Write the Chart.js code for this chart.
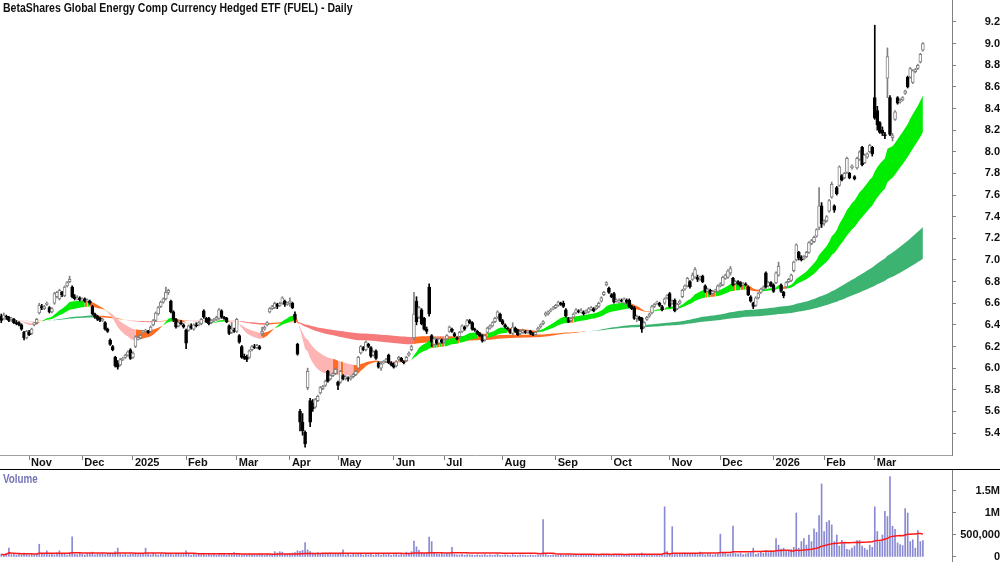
<!DOCTYPE html>
<html>
<head>
<meta charset="utf-8">
<script src="https://cdn.jsdelivr.net/npm/chart.js@4.4.0/dist/chart.umd.min.js"></script>
<style>
  html, body { margin: 0; padding: 0; background: #fff; }
  #wrap { position: relative; width: 1000px; height: 562px; overflow: hidden;
          font-family: "Liberation Sans Narrow", "Liberation Sans", Arial, sans-serif; }
  #pricebox { position: absolute; left: 0; top: 0; width: 1000px; height: 469px; }
  #sep { position: absolute; left: 0; top: 469px; width: 1000px; height: 1px; background: #000; }
  #volbox { position: absolute; left: 0; top: 470px; width: 1000px; height: 92px; }
  #title { position: absolute; left: 3px; top: 1px; font-size: 12px; font-weight: bold; color: #111;
           white-space: nowrap; transform: scaleX(0.875); transform-origin: left top; }
  #vlabel { position: absolute; left: 3px; top: 472px; font-size: 12px; font-weight: bold; color: #7474b8;
            transform: scaleX(0.82); transform-origin: left top; }
</style>
</head>
<body>
<div id="wrap">
  <div id="pricebox"><canvas id="price"></canvas></div>
  <div id="sep"></div>
  <div id="volbox"><canvas id="vol"></canvas></div>
  <div id="title">BetaShares Global Energy Comp Currency Hedged ETF (FUEL) - Daily</div>
  <div id="vlabel">Volume</div>
</div>
<script>
// month buckets (trading days in each), first bucket is the tail of Oct 2024
const monthLabels = ["Oct", "Nov", "Dec", "2025", "Feb", "Mar", "Apr", "May", "Jun", "Jul", "Aug", "Sep", "Oct", "Nov", "Dec", "2026", "Feb", "Mar"];
const monthDays   = [11, 21, 20, 21, 20, 21, 19, 22, 20, 23, 21, 22, 23, 20, 21, 20, 20, 20];

const priceTicks = [5.4, 5.6, 5.8, 6.0, 6.2, 6.4, 6.6, 6.8, 7.0, 7.2, 7.4, 7.6, 7.8, 8.0, 8.2, 8.4, 8.6, 8.8, 9.0, 9.2];
const volTicks = [0, 500, 1000, 1500];
const volTickLabels = ["0", "500,000", "1M", "1.5M"];

const opens = [
  6.48,6.46,6.48,6.47,6.45,6.45,6.42,6.42,6.40,6.33, 6.28,6.33,6.32,6.40,6.42,6.51,6.57,6.55,6.59,6.56,
  6.52,6.60,6.66,6.64,6.70,6.67,6.76,6.80,6.75,6.66, 6.64,6.65,6.63,6.64,6.62,6.62,6.57,6.50,6.48,6.46,
  6.44,6.42,6.36,6.26,6.20,6.10,6.05,6.03,6.08,6.10, 6.12,6.17,6.10,6.20,6.27,6.28,6.33,6.34,6.34,6.34,
  6.40,6.44,6.50,6.57,6.61,6.64,6.70,6.62,6.52,6.45, 6.39,6.42,6.40,6.35,6.35,6.39,6.36,6.40,6.40,6.41,
  6.53,6.46,6.46,6.42,6.44,6.45,6.46,6.53,6.47,6.46, 6.39,6.33,6.35,6.34,6.30,6.20,6.11,6.10,6.10,6.17,
  6.20,6.19,6.20,6.32,6.36,6.40,6.52,6.55,6.56,6.59, 6.58,6.60,6.62,6.59,6.60,6.60,6.50,6.22,5.60,5.50,
  5.41,5.82,5.70,5.68,5.64,5.70,5.77,5.81,5.84,5.97, 5.90,5.93,5.95,5.87,5.87,5.93,5.90,5.91,5.90,5.92,
  5.94,6.00,6.14,6.19,6.17,6.22,6.19,6.12,6.16,6.05, 6.00,6.05,6.06,6.12,6.05,6.03,6.02,6.08,6.09,6.06,
  6.07,6.12,6.17,6.28,6.62,6.47,6.54,6.46,6.36,6.75, 6.30,6.22,6.26,6.23,6.26,6.24,6.27,6.34,6.36,6.32,
  6.28,6.29,6.34,6.38,6.39,6.44,6.42,6.36,6.34,6.32, 6.30,6.26,6.33,6.37,6.39,6.43,6.47,6.50,6.44,6.40,
  6.37,6.35,6.32,6.37,6.35,6.32,6.33,6.34,6.33,6.34, 6.32,6.31,6.35,6.38,6.41,6.49,6.50,6.53,6.55,6.56,
  6.58,6.60,6.60,6.54,6.46,6.44,6.47,6.51,6.53,6.52, 6.52,6.51,6.52,6.54,6.55,6.55,6.57,6.62,6.68,6.77,
  6.74,6.68,6.69,6.62,6.61,6.63,6.60,6.63,6.63,6.57, 6.56,6.46,6.47,6.46,6.38,6.45,6.48,6.51,6.57,6.60,
  6.60,6.57,6.60,6.65,6.69,6.60,6.63,6.55,6.60,6.66, 6.73,6.76,6.80,6.82,6.84,6.84,6.83,6.85,6.76,6.71,
  6.72,6.69,6.71,6.71,6.76,6.77,6.83,6.84,6.88,6.83, 6.78,6.80,6.79,6.77,6.78,6.75,6.66,6.60,6.58,6.65,
  6.70,6.73,6.88,6.76,6.79,6.77,6.79,6.86,6.77,6.70, 6.75,6.80,6.81,6.90,7.00,7.07,7.03,7.01,7.03,7.07,
  7.15,7.17,7.22,7.30,7.50,7.34,7.36,7.45,7.58,7.50, 7.67,7.69,7.78,7.76,7.81,7.80,7.85,7.77,7.85,7.93,
  8.04,7.90,7.95,8.00,8.04,8.50,8.38,8.27,8.20,8.16, 8.68,8.50,8.13,8.30,8.50,8.46,8.48,8.54,8.69,8.69,
  8.64,8.74,8.77,8.83,8.94
];
const highs = [
  6.50,6.51,6.49,6.48,6.47,6.46,6.44,6.43,6.41,6.34, 6.35,6.35,6.37,6.42,6.46,6.60,6.59,6.58,6.61,6.57,
  6.56,6.70,6.71,6.73,6.71,6.76,6.80,6.85,6.76,6.68, 6.67,6.66,6.65,6.65,6.64,6.63,6.58,6.51,6.49,6.47,
  6.46,6.43,6.37,6.27,6.21,6.11,6.07,6.09,6.10,6.13, 6.16,6.18,6.15,6.30,6.30,6.31,6.35,6.36,6.35,6.39,
  6.45,6.52,6.57,6.62,6.65,6.75,6.73,6.63,6.53,6.46, 6.43,6.44,6.41,6.36,6.40,6.41,6.41,6.42,6.43,6.46,
  6.54,6.47,6.47,6.45,6.46,6.48,6.55,6.54,6.48,6.47, 6.40,6.42,6.37,6.46,6.31,6.21,6.13,6.12,6.17,6.21,
  6.22,6.22,6.21,6.38,6.39,6.43,6.56,6.58,6.61,6.60, 6.61,6.66,6.63,6.61,6.65,6.61,6.52,6.23,5.62,5.58,
  5.42,6.00,5.72,5.71,5.72,5.75,5.83,5.84,5.89,5.98, 5.94,5.96,6.00,5.88,5.98,5.94,5.93,5.92,5.93,5.95,
  5.98,6.11,6.21,6.20,6.25,6.23,6.20,6.16,6.17,6.06, 6.06,6.07,6.09,6.13,6.06,6.05,6.07,6.11,6.10,6.07,
  6.11,6.15,6.21,6.70,6.66,6.57,6.55,6.47,6.38,6.78, 6.31,6.28,6.27,6.28,6.27,6.27,6.31,6.39,6.37,6.33,
  6.29,6.34,6.40,6.39,6.45,6.45,6.43,6.37,6.35,6.33, 6.31,6.31,6.38,6.40,6.43,6.47,6.53,6.51,6.45,6.41,
  6.38,6.36,6.42,6.38,6.36,6.35,6.36,6.35,6.35,6.35, 6.33,6.34,6.38,6.41,6.44,6.52,6.53,6.55,6.57,6.59,
  6.62,6.61,6.62,6.55,6.47,6.47,6.51,6.55,6.54,6.55, 6.53,6.54,6.56,6.57,6.56,6.58,6.61,6.66,6.71,6.80,
  6.75,6.69,6.70,6.64,6.64,6.64,6.65,6.64,6.64,6.58, 6.57,6.49,6.48,6.47,6.43,6.48,6.51,6.58,6.60,6.62,
  6.61,6.58,6.65,6.68,6.70,6.63,6.64,6.60,6.63,6.73, 6.77,6.84,6.81,6.88,6.93,6.86,6.85,6.86,6.77,6.74,
  6.73,6.72,6.73,6.77,6.79,6.85,6.87,6.91,6.94,6.84, 6.81,6.81,6.80,6.79,6.79,6.76,6.67,6.61,6.66,6.70,
  6.74,6.76,6.89,6.80,6.80,6.78,6.89,6.98,6.78,6.71, 6.80,6.83,6.87,6.99,7.15,7.08,7.04,7.04,7.08,7.17,
  7.19,7.22,7.29,7.67,7.53,7.37,7.41,7.56,7.72,7.51, 7.68,7.87,7.79,7.81,7.95,7.81,7.88,7.78,7.95,8.01,
  8.05,7.98,7.99,8.07,8.05,9.17,8.42,8.28,8.23,8.18, 8.96,8.52,8.17,8.38,8.51,8.49,8.51,8.57,8.70,8.78,
  8.76,8.77,8.81,8.91,9.01
];
const lows = [
  6.42,6.45,6.45,6.43,6.43,6.41,6.40,6.39,6.35,6.26, 6.27,6.30,6.31,6.39,6.41,6.50,6.54,6.54,6.58,6.51,
  6.51,6.59,6.65,6.63,6.66,6.66,6.75,6.79,6.65,6.63, 6.63,6.62,6.62,6.61,6.61,6.59,6.49,6.46,6.44,6.43,
  6.43,6.35,6.33,6.21,6.16,6.01,5.99,6.02,6.07,6.09, 6.11,6.08,6.09,6.19,6.26,6.27,6.32,6.33,6.32,6.33,
  6.39,6.43,6.49,6.56,6.60,6.63,6.68,6.51,6.43,6.37, 6.38,6.40,6.37,6.18,6.34,6.36,6.35,6.38,6.39,6.40,
  6.46,6.42,6.40,6.41,6.43,6.44,6.45,6.46,6.45,6.42, 6.31,6.32,6.33,6.33,6.23,6.09,6.08,6.06,6.09,6.16,
  6.18,6.18,6.17,6.30,6.35,6.39,6.51,6.54,6.55,6.55, 6.57,6.59,6.57,6.58,6.57,6.55,6.42,6.12,5.42,5.38,
  5.27,5.80,5.46,5.60,5.63,5.69,5.76,5.80,5.83,5.87, 5.89,5.92,5.94,5.80,5.86,5.89,5.89,5.88,5.89,5.91,
  5.93,5.99,6.13,6.16,6.16,6.19,6.10,6.11,6.08,6.00, 5.98,6.04,6.05,6.04,6.02,6.00,6.01,6.07,6.06,6.04,
  6.06,6.11,6.16,6.26,6.40,6.46,6.40,6.35,6.32,6.48, 6.20,6.21,6.22,6.22,6.23,6.23,6.26,6.33,6.33,6.29,
  6.26,6.28,6.33,6.35,6.38,6.41,6.35,6.34,6.31,6.29, 6.24,6.25,6.32,6.36,6.38,6.42,6.46,6.43,6.40,6.37,
  6.35,6.32,6.31,6.33,6.30,6.31,6.32,6.32,6.32,6.31, 6.30,6.30,6.34,6.37,6.40,6.48,6.49,6.52,6.54,6.55,
  6.57,6.58,6.56,6.47,6.42,6.43,6.46,6.50,6.51,6.51, 6.49,6.50,6.51,6.53,6.52,6.54,6.56,6.61,6.67,6.76,
  6.69,6.65,6.60,6.61,6.60,6.61,6.59,6.60,6.56,6.54, 6.45,6.43,6.44,6.33,6.37,6.44,6.47,6.50,6.56,6.59,
  6.57,6.53,6.59,6.64,6.56,6.59,6.52,6.54,6.59,6.65, 6.72,6.75,6.74,6.81,6.83,6.80,6.81,6.79,6.70,6.70,
  6.68,6.68,6.70,6.70,6.75,6.76,6.82,6.83,6.86,6.76, 6.77,6.77,6.75,6.76,6.76,6.67,6.61,6.55,6.57,6.64,
  6.69,6.72,6.74,6.75,6.75,6.70,6.78,6.85,6.70,6.65, 6.74,6.79,6.80,6.89,6.99,7.00,6.99,7.00,7.02,7.06,
  7.14,7.16,7.21,7.28,7.30,7.32,7.35,7.44,7.57,7.44, 7.60,7.68,7.73,7.75,7.80,7.75,7.84,7.74,7.84,7.92,
  7.87,7.89,7.94,7.99,7.96,8.30,8.20,8.17,8.15,8.12, 8.50,8.15,8.10,8.29,8.44,8.45,8.47,8.53,8.59,8.68,
  8.63,8.73,8.76,8.82,8.93
];
const closes = [
  6.44,6.49,6.47,6.44,6.46,6.42,6.41,6.40,6.36,6.28, 6.34,6.31,6.36,6.42,6.45,6.58,6.56,6.57,6.60,6.52,
  6.55,6.69,6.70,6.72,6.68,6.75,6.79,6.82,6.66,6.64, 6.65,6.63,6.64,6.62,6.63,6.60,6.50,6.47,6.45,6.44,
  6.45,6.36,6.34,6.22,6.17,6.02,6.01,6.08,6.09,6.12, 6.15,6.09,6.14,6.29,6.28,6.30,6.34,6.35,6.33,6.38,
  6.44,6.51,6.56,6.61,6.64,6.70,6.72,6.52,6.45,6.38, 6.42,6.41,6.38,6.23,6.39,6.37,6.40,6.39,6.42,6.45,
  6.47,6.43,6.41,6.44,6.45,6.47,6.54,6.47,6.46,6.43, 6.32,6.36,6.34,6.45,6.24,6.10,6.09,6.08,6.16,6.20,
  6.19,6.21,6.18,6.34,6.38,6.42,6.55,6.57,6.60,6.57, 6.60,6.65,6.59,6.60,6.62,6.56,6.45,6.13,5.50,5.42,
  5.30,5.97,5.50,5.62,5.71,5.74,5.82,5.83,5.88,5.88, 5.93,5.95,5.99,5.84,5.97,5.90,5.92,5.90,5.92,5.94,
  5.97,6.10,6.20,6.17,6.24,6.20,6.11,6.15,6.09,6.01, 6.04,6.06,6.08,6.05,6.03,6.01,6.06,6.10,6.07,6.05,
  6.10,6.14,6.20,6.50,6.43,6.56,6.41,6.36,6.34,6.50, 6.24,6.27,6.23,6.27,6.24,6.26,6.30,6.38,6.34,6.30,
  6.27,6.33,6.39,6.36,6.44,6.42,6.36,6.35,6.32,6.30, 6.25,6.30,6.37,6.39,6.42,6.46,6.52,6.44,6.41,6.38,
  6.36,6.33,6.38,6.34,6.31,6.34,6.35,6.33,6.34,6.32, 6.31,6.33,6.37,6.40,6.43,6.51,6.52,6.54,6.56,6.58,
  6.61,6.59,6.57,6.48,6.43,6.46,6.50,6.54,6.52,6.53, 6.50,6.53,6.55,6.56,6.53,6.57,6.60,6.65,6.70,6.79,
  6.70,6.66,6.61,6.63,6.63,6.62,6.64,6.61,6.57,6.55, 6.46,6.48,6.45,6.36,6.42,6.47,6.50,6.57,6.59,6.61,
  6.58,6.54,6.64,6.67,6.57,6.62,6.53,6.59,6.62,6.72, 6.76,6.83,6.75,6.86,6.91,6.82,6.84,6.80,6.71,6.73,
  6.69,6.71,6.72,6.76,6.78,6.84,6.86,6.90,6.92,6.77, 6.80,6.78,6.76,6.78,6.77,6.68,6.62,6.57,6.65,6.69,
  6.73,6.75,6.75,6.79,6.76,6.71,6.88,6.94,6.71,6.67, 6.79,6.82,6.86,6.98,7.14,7.02,7.00,7.03,7.07,7.16,
  7.18,7.21,7.28,7.50,7.33,7.36,7.40,7.55,7.70,7.46, 7.61,7.86,7.74,7.80,7.94,7.76,7.87,7.75,7.94,8.00,
  7.88,7.97,7.98,8.06,7.98,8.31,8.25,8.18,8.17,8.15, 8.88,8.16,8.15,8.37,8.45,8.47,8.50,8.56,8.60,8.77,
  8.75,8.76,8.80,8.90,9.00
];
// daily volume, thousands of units
const volumeK = [
  60,45,80,200,55,70,40,65,50,90, 75,45,60,50,70,290,85,60,140,55,
  70,50,95,140,60,80,45,100,460,70, 55,90,60,45,80,65,110,50,75,60,
  85,55,70,90,60,120,200,65,50,80, 45,70,60,90,55,75,60,200,70,50,
  85,60,45,70,55,90,65,80,50,60, 75,55,65,140,60,45,70,50,80,55,
  65,40,70,50,60,45,80,55,60,40, 70,55,100,60,80,50,65,45,70,55,
  60,50,75,65,45,70,55,60,120,90, 120,110,60,70,80,90,100,140,130,150,
  330,160,120,90,80,100,70,85,60,75, 90,55,70,60,85,160,50,65,45,70,
  55,80,60,45,70,50,65,40,55,60, 45,70,50,60,40,55,65,45,70,50,
  110,90,120,360,230,150,100,80,90,450, 350,90,70,60,80,55,70,65,220,60,
  50,45,60,40,55,50,45,35,50,40, 45,55,35,50,40,45,60,40,35,50,
  45,30,55,40,35,50,45,40,30,45, 40,35,50,45,850,60,40,35,50,45,
  40,55,35,45,50,40,35,45,30,40, 50,35,45,40,55,30,45,60,50,40,
  45,35,50,40,45,55,35,40,50,45, 60,50,70,90,55,45,40,50,35,45,
  40,55,1140,120,60,690,70,55,60,80, 90,75,60,85,70,55,110,65,50,70,
  60,45,55,70,520,85,90,60,75,700, 80,65,90,55,70,85,110,200,60,80,
  120,90,150,100,140,120,420,270,180,200, 150,130,170,220,1000,200,350,420,270,500,
  350,640,560,940,1660,580,790,830,730,350, 500,250,380,330,175,160,200,250,370,380,
  250,200,160,270,220,1140,580,350,500,1040, 920,1830,700,630,320,280,260,1100,1000,350,
  390,200,600,350,370
];

const SLOTS = 376;               // trading-day slots across the x axis (the last few are empty)
const labels = Array.from({ length: SLOTS }, (_, i) => String(i));
const tickText = {};
const monthStarts = [];
let dayIdx = 0;
monthDays.forEach((n, m) => {
  if (m > 0) { monthStarts.push(dayIdx); tickText[dayIdx] = monthLabels[m]; }
  dayIdx += n;
});

function ema(src, n) {
  const a = 2 / (n + 1);
  let e = src[0];
  return src.map((v, i) => (e = i === 0 ? v : e + a * (v - e)));
}
function sma(src, n) {
  return src.map((_, i) => {
    const w = src.slice(Math.max(0, i - n + 1), i + 1);
    return w.reduce((s, v) => s + v, 0) / w.length;
  });
}

const shortFast = ema(closes, 20), shortSlow = ema(closes, 40);
const longFast = ema(closes, 150), longSlow = ema(closes, 250);

// ribbon colour: bull + rising = green, bear + falling = red/pink, mixed = orange
function ribbonColours(fast, slow, bull, bear, mixed) {
  return fast.map((f, i) => {
    const rising = i === 0 ? true : f >= fast[i - 1];
    const above = f >= slow[i];
    return above && rising ? bull : (!above && !rising ? bear : mixed);
  });
}
const shortCol = ribbonColours(shortFast, shortSlow, "#00ec00", "#ffb4b4", "#ff6c22");
const longCol = ribbonColours(longFast, longSlow, "#3cb371", "#f77a7a", "#ff6c22");

const up = closes.map((c, i) => c >= opens[i]);

Chart.defaults.font.family = "'Liberation Sans Narrow', 'Liberation Sans', Arial, sans-serif";
Chart.defaults.font.size = 11;
Chart.defaults.font.weight = "bold";
Chart.defaults.color = "#111";

function ribbon(data, colors, fill, order) {
  return {
    type: "line", data, order, fill,
    borderColor: "transparent", borderWidth: 1, pointRadius: 0, tension: 0,
    backgroundColor: colors[0],
    segment: { backgroundColor: c => colors[c.p0DataIndex] }
  };
}

new Chart(document.getElementById("price"), {
  type: "bar",
  data: {
    labels,
    datasets: [
      ribbon(longFast, longCol, "+1", 20),
      ribbon(longSlow, longCol, false, 21),
      ribbon(shortFast, shortCol, "+1", 10),
      ribbon(shortSlow, shortCol, false, 11),
      {
        data: lows.map((l, i) => [l, highs[i]]), order: 2, grouped: false,
        barThickness: 1, backgroundColor: up.map(u => (u ? "#808080" : "#000"))
      },
      {
        data: opens.map((o, i) => [o, closes[i]]), order: 1, grouped: false,
        barThickness: 3, minBarLength: 1, borderWidth: 1, borderSkipped: false,
        backgroundColor: up.map(u => (u ? "#fff" : "#000")),
        borderColor: up.map(u => (u ? "#808080" : "#000"))
      }
    ]
  },
  options: {
    responsive: true, maintainAspectRatio: false, animation: false, events: [],
    layout: { padding: 0 },
    plugins: { legend: { display: false }, tooltip: { enabled: false } },
    scales: {
      x: {
        grid: { drawOnChartArea: false, offset: false, tickLength: 5, color: "#808080" },
        border: { display: true, color: "#a0a0a0" },
        afterBuildTicks: s => { s.ticks = monthStarts.map(v => ({ value: v })); },
        afterFit: s => { s.height = 14; s.paddingLeft = 0; s.paddingRight = 0; },
        ticks: { autoSkip: false, maxRotation: 0, align: "start", labelOffset: 2, padding: -4,
                 callback: v => tickText[v] || "" }
      },
      y: {
        position: "right", min: 5.197, max: 9.403,
        afterBuildTicks: s => { s.ticks = priceTicks.map(v => ({ value: v })); },
        afterFit: s => { s.width = 48; s.paddingTop = 0; s.paddingBottom = 0; },
        grid: { drawOnChartArea: false, tickLength: 4, color: "#808080" },
        border: { display: true, color: "#808080" },
        ticks: { padding: 26, crossAlign: "far", callback: v => v.toFixed(1) }
      }
    }
  }
});

new Chart(document.getElementById("vol"), {
  type: "bar",
  data: {
    labels,
    datasets: [
      { type: "line", data: sma(volumeK, 50), order: 0, borderColor: "#ff1a1a", borderWidth: 1.5,
        pointRadius: 0, tension: 0, fill: false },
      { data: volumeK, order: 1, barThickness: 1, backgroundColor: "#8a8ad4" }
    ]
  },
  options: {
    responsive: true, maintainAspectRatio: false, animation: false, events: [],
    layout: { padding: 0 },
    plugins: { legend: { display: false }, tooltip: { enabled: false } },
    scales: {
      x: { display: false },
      y: {
        position: "right", min: -114, max: 1977,
        afterBuildTicks: s => { s.ticks = volTicks.map(v => ({ value: v })); },
        afterFit: s => { s.width = 48; s.paddingTop = 0; s.paddingBottom = 0; },
        grid: { drawOnChartArea: false, tickLength: 4, color: "#808080" },
        border: { display: true, color: "#808080" },
        ticks: { padding: 1, crossAlign: "far", callback: v => volTickLabels[volTicks.indexOf(v)] }
      }
    }
  }
});
</script>
</body>
</html>
